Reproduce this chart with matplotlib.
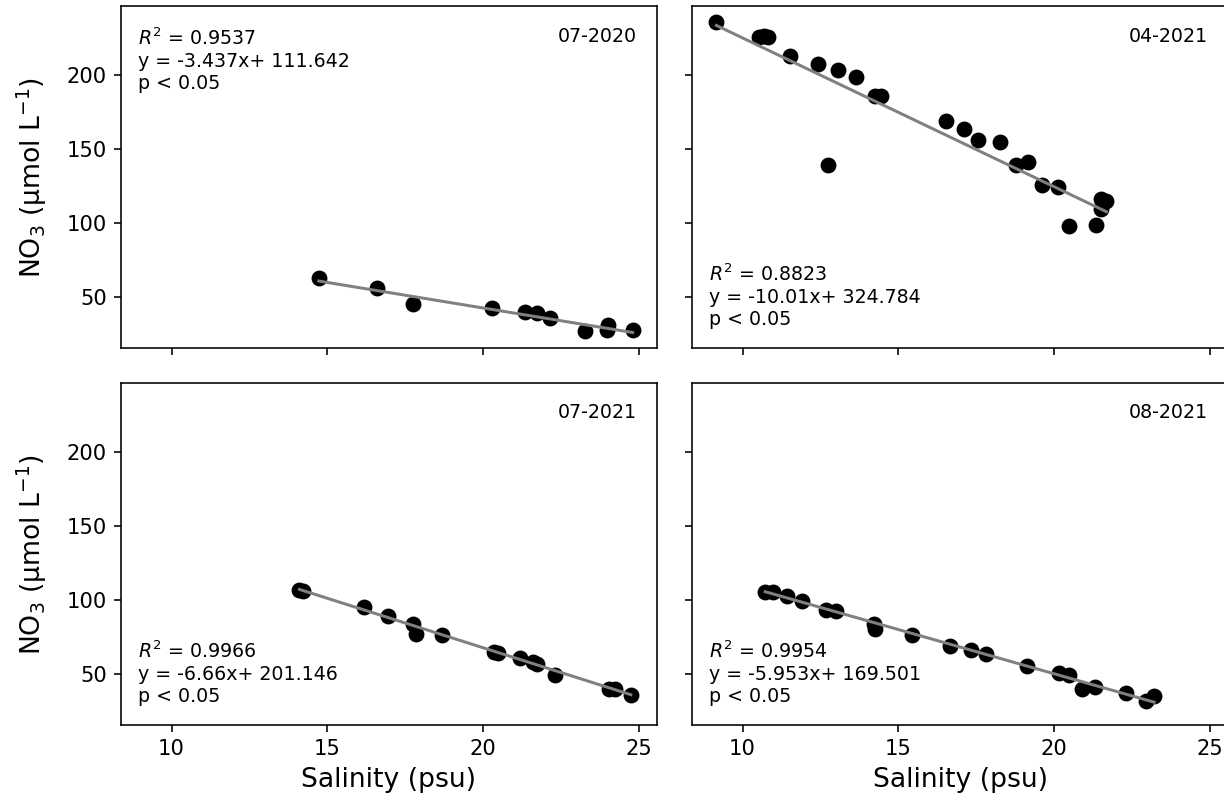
import numpy as np
import matplotlib
matplotlib.use("Agg")
import matplotlib.pyplot as plt
from matplotlib.ticker import MultipleLocator

# salinity (psu) and nitrate (umol/L) for each sampling campaign
sal_jul20 = [14.73, 16.59, 17.77, 20.28, 21.35, 21.75, 22.14, 23.27, 24.02, 23.99, 24.81]
no3_jul20 = [63.1, 56.1, 45.8, 42.9, 40.2, 39.5, 36.1, 27.1, 31.6, 28.3, 28.3]

sal_apr21 = [9.16, 10.53, 10.68, 10.81, 11.53, 12.43, 13.08, 13.66, 12.76, 14.25, 14.44, 16.53,
             17.10, 17.57, 18.27, 18.77, 19.16, 19.61, 20.12, 20.50, 21.34, 21.52, 21.69, 21.52]
no3_apr21 = [235.7, 225.6, 225.8, 225.2, 212.2, 207.3, 203.2, 198.7, 138.8, 185.7, 185.9, 168.9,
             163.7, 155.7, 154.3, 138.8, 141.1, 125.4, 124.0, 97.8, 98.9, 116.4, 115.1, 109.7]

sal_jul21 = [14.11, 14.22, 16.19, 16.96, 17.74, 17.85, 18.70, 20.36, 20.47, 21.18, 21.60, 21.75,
             22.33, 24.05, 24.25, 24.75]
no3_jul21 = [107.0, 106.4, 95.2, 89.6, 83.6, 77.3, 76.6, 65.0, 64.3, 61.2, 58.3, 56.7,
             49.3, 40.4, 39.9, 35.9]

sal_aug21 = [10.73, 10.97, 11.42, 11.92, 12.68, 13.01, 14.22, 14.27, 15.45, 16.65, 17.35, 17.83,
             19.14, 20.18, 20.50, 20.91, 21.32, 22.33, 22.96, 23.22]
no3_aug21 = [105.7, 105.7, 102.8, 99.2, 93.6, 92.5, 83.6, 80.2, 76.6, 68.8, 66.1, 63.6,
             55.6, 50.9, 49.8, 40.4, 41.5, 37.5, 31.9, 35.2]

campaigns = ["07-2020", "04-2021", "07-2021", "08-2021"]
slopes = [-3.437, -10.01, -6.66, -5.953]
intercepts = [111.642, 324.784, 201.146, 169.501]
r2_values = [0.9537, 0.8823, 0.9966, 0.9954]

salinity = [sal_jul20, sal_apr21, sal_jul21, sal_aug21]
nitrate = [no3_jul20, no3_apr21, no3_jul21, no3_aug21]
# where the stats box sits in each panel
stats_top = [True, False, False, False]

fig, axes = plt.subplots(2, 2, figsize=(8.5, 804 / 144), dpi=144, sharex=True, sharey=True)
fig.subplots_adjust(left=121 / 1224, right=1228 / 1224, top=1 - 6 / 804, bottom=1 - 725 / 804,
                    wspace=0.0653, hspace=0.102)

for i, ax in enumerate(axes.flat):
    x = np.array(salinity[i])
    y = np.array(nitrate[i])
    ax.scatter(x, y, s=48, color="black", zorder=2)

    xs = np.array([x.min(), x.max()])
    ax.plot(xs, slopes[i] * xs + intercepts[i], color="grey", linewidth=1.5, zorder=3)

    stats = f"$R^2$ = {r2_values[i]}\ny = {slopes[i]}x+ {intercepts[i]}\np < 0.05"
    if stats_top[i]:
        ax.text(0.032, 0.937, stats, transform=ax.transAxes, ha="left", va="top", fontsize=9.5)
    else:
        ax.text(0.032, 0.055, stats, transform=ax.transAxes, ha="left", va="bottom", fontsize=9.5)
    ax.text(0.963, 0.94, campaigns[i], transform=ax.transAxes, ha="right", va="top", fontsize=9.5)

    ax.xaxis.set_major_locator(MultipleLocator(5))
    ax.tick_params(labelsize=10.5)

for ax in axes[:, 0]:
    ax.set_ylabel("NO$_3$ (µmol L$^{-1}$)", fontsize=13.3, labelpad=9)
for ax in axes[1, :]:
    ax.set_xlabel("Salinity (psu)", fontsize=13.3)

plt.savefig("out.png", dpi=144)
